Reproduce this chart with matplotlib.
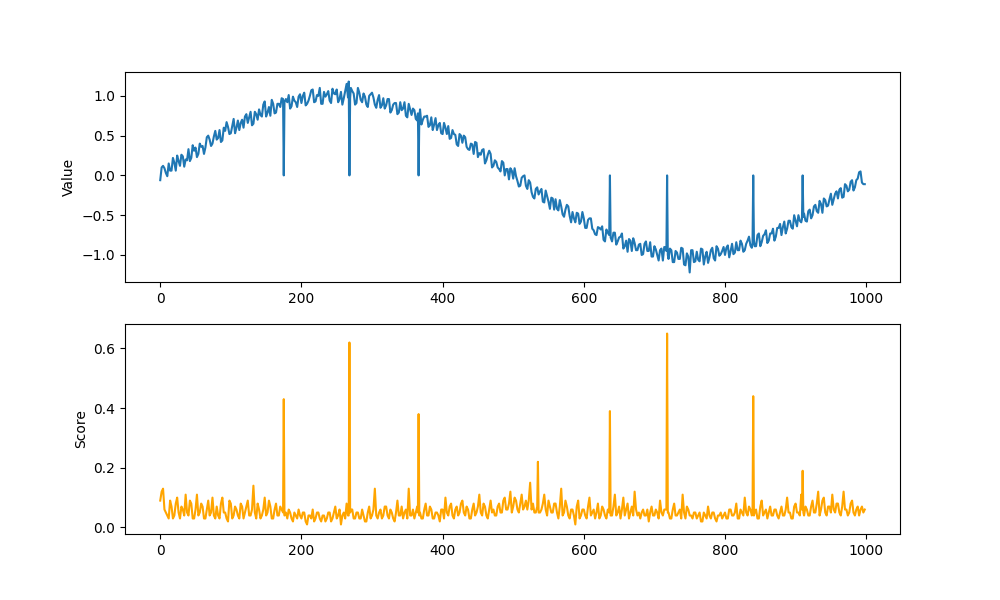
import numpy as np
import matplotlib
matplotlib.use("Agg")
import matplotlib.pyplot as plt

# values read off the chart, sampled every 2 steps:
# *_even at x = 0, 4, 8, ...   *_odd at x = 2, 6, 10, ...
value_even = [
    -0.06, 0.12, 0.03, 0.15, 0.06, 0.16, 0.25, 0.12, 0.24, 0.20,
    0.33, 0.22, 0.31, 0.23, 0.40, 0.37, 0.35, 0.50, 0.37, 0.49,
    0.45, 0.57, 0.44, 0.56, 0.61, 0.53, 0.71, 0.60, 0.57, 0.70,
    0.74, 0.66, 0.80, 0.65, 0.77, 0.83, 0.74, 0.93, 0.79, 0.75,
    0.90, 0.79, 0.90, 0.97, 0.84, 0.92, 0.84, 0.99, 0.92, 0.99,
    0.91, 1.04, 0.90, 1.00, 1.08, 0.93, 1.00, 0.90, 1.05, 1.02,
    0.94, 1.09, 1.02, 0.92, 1.05, 0.97, 1.15, 0.95, 1.06, 0.89,
    1.10, 0.95, 1.03, 0.89, 1.00, 1.04, 0.89, 0.95, 0.85, 0.97,
    0.88, 0.96, 0.82, 0.91, 0.77, 0.92, 0.84, 0.75, 0.90, 0.76,
    0.82, 0.69, 0.83, 0.70, 0.74, 0.61, 0.73, 0.64, 0.57, 0.66,
    0.52, 0.60, 0.62, 0.47, 0.52, 0.39, 0.52, 0.41, 0.48, 0.33,
    0.40, 0.27, 0.41, 0.28, 0.32, 0.15, 0.26, 0.27, 0.12, 0.17,
    0.08, 0.18, 0.00, 0.08, 0.09, -0.04, -0.01, -0.14, -0.03, 0.00,
    -0.17, -0.09, -0.27, -0.17, -0.24, -0.17, -0.34, -0.26, -0.42, -0.29,
    -0.30, -0.44, -0.39, -0.52, -0.37, -0.51, -0.46, -0.59, -0.48, -0.58,
    -0.54, -0.66, -0.54, -0.67, -0.74, -0.65, -0.68, -0.81, -0.68, -0.79,
    -0.83, -0.72, -0.83, -0.77, -0.92, -0.82, -0.80, -0.95, -0.85, -0.94,
    -0.86, -0.99, -0.83, -0.95, -1.02, -0.89, -1.00, -0.94, -1.07, -0.91,
    -1.05, -0.94, -1.09, -0.97, -1.05, -0.92, -1.13, -1.02, -0.94, -1.09,
    -0.96, -1.08, -0.93, -1.02, -1.10, -0.94, -1.04, -0.89, -1.01, -0.95,
    -1.00, -0.88, -0.95, -0.99, -0.84, -0.94, -0.86, -0.94, -0.82, -0.88,
    -0.81, -0.89, -0.73, -0.84, -0.74, -0.85, -0.73, -0.67, -0.77, -0.66,
    -0.75, -0.58, -0.67, -0.57, -0.67, -0.57, -0.50, -0.59, -0.48, -0.58,
    -0.43, -0.50, -0.37, -0.47, -0.36, -0.29, -0.39, -0.30, -0.37, -0.23,
    -0.29, -0.16, -0.27, -0.13, -0.18, -0.06, -0.15, -0.04, 0.05, -0.11,
]
value_odd = [
    0.10, 0.09, -0.01, 0.06, 0.22, 0.06, 0.18, 0.26, 0.11, 0.19,
    0.18, 0.38, 0.35, 0.27, 0.36, 0.27, 0.48, 0.45, 0.40, 0.56,
    0.47, 0.42, 0.60, 0.67, 0.52, 0.62, 0.53, 0.69, 0.66, 0.60,
    0.77, 0.73, 0.63, 0.80, 0.70, 0.76, 0.89, 0.74, 0.86, 0.95,
    0.78, 0.90, 0.86, 0.80, 0.96, 1.01, 0.87, 0.94, 0.86, 1.02,
    1.00, 0.88, 0.94, 1.07, 0.92, 1.01, 1.10, 0.90, 0.99, 1.06,
    0.91, 1.03, 1.08, 0.96, 0.89, 1.06, 0.98, 1.10, 1.03, 0.91,
    1.04, 0.92, 0.99, 0.86, 1.02, 0.98, 0.85, 1.01, 0.88, 0.84,
    0.96, 0.79, 0.89, 0.91, 0.79, 0.82, 0.92, 0.73, 0.83, 0.84,
    0.71, 0.83, 0.64, 0.74, 0.75, 0.63, 0.57, 0.72, 0.63, 0.53,
    0.66, 0.52, 0.46, 0.57, 0.51, 0.37, 0.50, 0.50, 0.36, 0.32,
    0.39, 0.42, 0.23, 0.26, 0.33, 0.19, 0.31, 0.10, 0.19, 0.10,
    0.05, 0.16, 0.08, -0.05, 0.06, 0.09, -0.07, -0.13, -0.01, -0.13,
    -0.06, -0.21, -0.29, -0.15, -0.20, -0.33, -0.19, -0.33, -0.28, -0.43,
    -0.42, -0.31, -0.49, -0.43, -0.39, -0.59, -0.54, -0.47, -0.61, -0.46,
    -0.66, -0.56, -0.54, -0.69, -0.75, -0.66, -0.64, -0.83, -0.72, -0.81,
    -0.72, -0.87, -0.78, -0.73, -0.89, -0.96, -0.82, -0.79, -0.94, -0.87,
    -1.00, -0.86, -0.95, -0.84, -1.02, -0.93, -1.07, -0.92, -0.90, -1.02,
    -0.92, -1.09, -0.95, -1.05, -0.91, -1.12, -0.98, -1.22, -0.94, -1.08,
    -1.06, -0.92, -1.12, -0.96, -1.03, -0.91, -1.07, -0.92, -0.99, -0.90,
    -0.91, -1.03, -0.86, -0.97, -0.94, -0.82, -0.96, -0.86, -0.77, -0.91,
    -0.89, -0.75, -0.89, -0.76, -0.69, -0.82, -0.73, -0.82, -0.66, -0.61,
    -0.65, -0.73, -0.57, -0.65, -0.50, -0.64, -0.57, -0.45, -0.57, -0.45,
    -0.54, -0.39, -0.45, -0.32, -0.47, -0.31, -0.38, -0.23, -0.30, -0.20,
    -0.18, -0.28, -0.11, -0.20, -0.08, -0.19, -0.06, 0.04, -0.09, -0.11,
]
score_even = [
    0.09, 0.13, 0.05, 0.03, 0.07, 0.04, 0.10, 0.03, 0.06, 0.11,
    0.04, 0.08, 0.03, 0.11, 0.05, 0.07, 0.03, 0.09, 0.05, 0.04,
    0.07, 0.03, 0.10, 0.05, 0.02, 0.08, 0.04, 0.06, 0.03, 0.07,
    0.05, 0.09, 0.04, 0.14, 0.03, 0.06, 0.04, 0.10, 0.05, 0.07,
    0.03, 0.08, 0.04, 0.06, 0.09, 0.03, 0.05, 0.02, 0.04, 0.06,
    0.03, 0.05, 0.01, 0.04, 0.06, 0.03, 0.05, 0.02, 0.04, 0.03,
    0.05, 0.03, 0.07, 0.04, 0.01, 0.05, 0.08, 0.04, 0.06, 0.03,
    0.05, 0.03, 0.04, 0.02, 0.07, 0.04, 0.13, 0.03, 0.06, 0.04,
    0.07, 0.03, 0.05, 0.02, 0.09, 0.04, 0.03, 0.06, 0.13, 0.04,
    0.03, 0.07, 0.05, 0.03, 0.08, 0.04, 0.06, 0.03, 0.05, 0.02,
    0.06, 0.10, 0.04, 0.08, 0.03, 0.07, 0.05, 0.09, 0.04, 0.06,
    0.03, 0.08, 0.05, 0.11, 0.04, 0.07, 0.03, 0.09, 0.06, 0.04,
    0.08, 0.05, 0.10, 0.06, 0.12, 0.07, 0.09, 0.05, 0.11, 0.07,
    0.06, 0.15, 0.08, 0.05, 0.09, 0.06, 0.11, 0.04, 0.07, 0.05,
    0.08, 0.03, 0.13, 0.05, 0.07, 0.03, 0.06, 0.01, 0.09, 0.04,
    0.06, 0.03, 0.10, 0.05, 0.03, 0.08, 0.04, 0.06, 0.03, 0.05,
    0.04, 0.11, 0.05, 0.03, 0.10, 0.06, 0.03, 0.07, 0.12, 0.04,
    0.03, 0.06, 0.04, 0.02, 0.07, 0.04, 0.05, 0.09, 0.04, 0.06,
    0.05, 0.03, 0.08, 0.04, 0.06, 0.11, 0.03, 0.06, 0.04, 0.05,
    0.03, 0.05, 0.02, 0.04, 0.07, 0.03, 0.05, 0.02, 0.04, 0.03,
    0.05, 0.03, 0.06, 0.04, 0.08, 0.03, 0.05, 0.10, 0.04, 0.06,
    0.04, 0.06, 0.03, 0.09, 0.05, 0.03, 0.07, 0.04, 0.06, 0.03,
    0.07, 0.04, 0.10, 0.05, 0.03, 0.08, 0.05, 0.11, 0.04, 0.06,
    0.04, 0.09, 0.05, 0.12, 0.06, 0.10, 0.04, 0.07, 0.11, 0.05,
    0.08, 0.04, 0.12, 0.06, 0.05, 0.09, 0.04, 0.07, 0.06, 0.05,
]
score_odd = [
    0.12, 0.06, 0.04, 0.09, 0.03, 0.08, 0.05, 0.07, 0.04, 0.05,
    0.09, 0.03, 0.06, 0.04, 0.08, 0.03, 0.06, 0.04, 0.10, 0.03,
    0.04, 0.08, 0.05, 0.03, 0.09, 0.03, 0.07, 0.04, 0.08, 0.03,
    0.07, 0.04, 0.06, 0.05, 0.08, 0.03, 0.06, 0.04, 0.09, 0.03,
    0.06, 0.04, 0.07, 0.03, 0.05, 0.06, 0.03, 0.05, 0.03, 0.04,
    0.05, 0.02, 0.04, 0.03, 0.02, 0.05, 0.03, 0.04, 0.02, 0.05,
    0.02, 0.05, 0.03, 0.06, 0.04, 0.03, 0.04, 0.06, 0.03, 0.05,
    0.03, 0.06, 0.02, 0.05, 0.03, 0.06, 0.04, 0.05, 0.03, 0.07,
    0.04, 0.06, 0.03, 0.05, 0.04, 0.07, 0.05, 0.03, 0.04, 0.06,
    0.05, 0.04, 0.03, 0.06, 0.04, 0.07, 0.03, 0.05, 0.04, 0.06,
    0.03, 0.05, 0.07, 0.04, 0.06, 0.04, 0.08, 0.05, 0.07, 0.03,
    0.06, 0.04, 0.07, 0.05, 0.08, 0.04, 0.06, 0.05, 0.04, 0.07,
    0.05, 0.09, 0.06, 0.08, 0.05, 0.10, 0.06, 0.08, 0.06, 0.09,
    0.09, 0.06, 0.05, 0.10, 0.05, 0.08, 0.06, 0.09, 0.05, 0.08,
    0.05, 0.07, 0.04, 0.09, 0.04, 0.06, 0.04, 0.07, 0.03, 0.06,
    0.04, 0.07, 0.04, 0.06, 0.05, 0.03, 0.07, 0.04, 0.06, 0.04,
    0.07, 0.04, 0.07, 0.06, 0.04, 0.08, 0.05, 0.04, 0.06, 0.05,
    0.05, 0.04, 0.06, 0.05, 0.04, 0.06, 0.03, 0.05, 0.06, 0.04,
    0.03, 0.06, 0.04, 0.05, 0.03, 0.05, 0.07, 0.04, 0.03, 0.05,
    0.04, 0.02, 0.05, 0.03, 0.04, 0.05, 0.03, 0.04, 0.05, 0.04,
    0.03, 0.06, 0.04, 0.05, 0.03, 0.06, 0.04, 0.05, 0.07, 0.04,
    0.05, 0.03, 0.07, 0.04, 0.06, 0.05, 0.04, 0.06, 0.04, 0.05,
    0.04, 0.06, 0.05, 0.03, 0.07, 0.05, 0.04, 0.06, 0.07, 0.04,
    0.07, 0.05, 0.08, 0.04, 0.09, 0.05, 0.07, 0.05, 0.06, 0.08,
    0.05, 0.07, 0.06, 0.04, 0.08, 0.05, 0.06, 0.04, 0.07, 0.06,
]

# anomalies: value falls to 0, with the samples right next to each one
anomaly_idx = [175, 268, 366, 637, 718, 840, 910]
anomaly_val = [0.0, 0.0, 0.0, 0.0, 0.0, 0.0, 0.0]
anomaly_before = [0.96, 1.18, 0.78, -0.75, -0.95, -0.85, -0.55]
anomaly_after = [0.92, 0.97, 0.72, -0.78, -1.00, -0.82, -0.52]

score_peak_idx = [175, 268, 366, 535, 637, 718, 840, 910]
score_peak_val = [0.43, 0.62, 0.38, 0.22, 0.39, 0.65, 0.44, 0.19]
score_before = [0.05, 0.04, 0.05, 0.07, 0.05, 0.06, 0.05, 0.06]
score_after = [0.04, 0.05, 0.04, 0.05, 0.04, 0.05, 0.04, 0.05]


def build(even, odd, idx, peak, before, after):
    d = {}
    for i, v in enumerate(even):
        d[4 * i] = v
    for i, v in enumerate(odd):
        d[4 * i + 2] = v
    for i, p, b, a in zip(idx, peak, before, after):
        d[i - 1] = b
        d[i] = p
        d[i + 1] = a
    keys = sorted(d)
    return np.array(keys), np.array([d[k] for k in keys])


x1, values = build(value_even, value_odd, anomaly_idx, anomaly_val,
                   anomaly_before, anomaly_after)
x2, scores = build(score_even, score_odd, score_peak_idx, score_peak_val,
                   score_before, score_after)

fig, (ax1, ax2) = plt.subplots(2, 1, figsize=(10, 6), dpi=100)
ax1.plot(x1, values)
ax1.set_ylabel('Value')
ax2.plot(x2, scores, color='orange')
ax2.set_ylabel('Score')
plt.savefig('out.png')
